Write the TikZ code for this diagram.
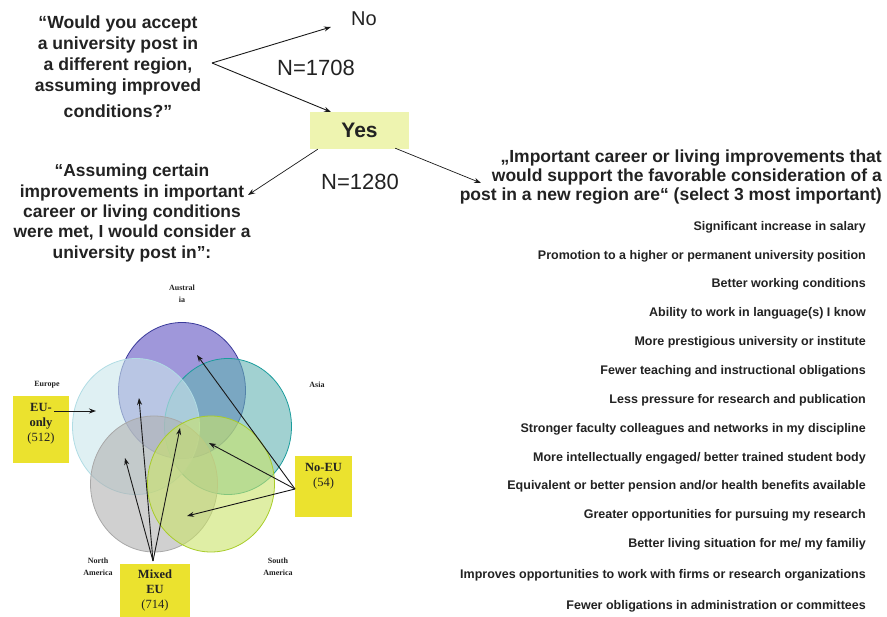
\documentclass[tikz,border=0pt]{standalone}
\usepackage{fontspec}
\setmainfont{Liberation Sans}
\newfontfamily\vennfont{Liberation Serif}
\usetikzlibrary{shapes.geometric,arrows.meta}

\definecolor{ink}{HTML}{222222}
\definecolor{stickyyellow}{RGB}{235,226,46}
\definecolor{yesfill}{RGB}{238,244,176}
\definecolor{ausfill}{HTML}{5F52C1}
\definecolor{ausline}{HTML}{3A3A9A}
\definecolor{asiafill}{HTML}{62B2B2}
\definecolor{asialine}{HTML}{1A9C9C}
\definecolor{eufill}{HTML}{CAE6EB}
\definecolor{euline}{HTML}{B0DCE4}
\definecolor{nafill}{HTML}{B1B1B1}
\definecolor{naline}{HTML}{A8A8A8}
\definecolor{safill}{HTML}{CAE369}
\definecolor{saline}{HTML}{A8CC28}

\begin{document}
\begin{tikzpicture}[x=1pt,y=-1pt,>={Stealth[length=7pt,width=5pt]},text=ink]
    \tikzstyle{question}=[align=center,font=\bfseries\fontsize{17.6}{21}\selectfont]
    \tikzstyle{count}=[font=\fontsize{22}{26}\selectfont]
    \tikzstyle{item}=[anchor=east,inner sep=0pt,font=\bfseries\fontsize{12.5}{15}\selectfont]
    \tikzstyle{region}=[ellipse,minimum width=127pt,minimum height=136pt,inner sep=0pt,fill opacity=0.6,line width=0.8pt]
    \tikzstyle{region label}=[align=center,font=\vennfont\bfseries\fontsize{8}{12}\selectfont]
    \tikzstyle{sticky}=[fill=stickyyellow,inner sep=0pt]
    \tikzstyle{sticky text}=[align=center,font=\vennfont\fontsize{12.5}{15}\selectfont]
    \tikzstyle{pointer}=[->,draw=black!90,line width=0.9pt]

    \useasboundingbox (0,0) rectangle (887,617);

    % first question and answers
    \node[question] (Q1) at (118,66.5) {“Would you accept\\a university post in\\a different region,\\assuming improved\\[5pt]conditions?”};
    \coordinate (fork) at (212,63);
    \node[count,font=\fontsize{20}{24}\selectfont] (No) at (364,19) {No};
    \node[count] (N1) at (316,68) {N=1708};
    \node[fill=yesfill,minimum width=99pt,minimum height=37pt,inner sep=0pt,font=\bfseries\fontsize{21}{25}\selectfont] (Yes) at (359.5,130.5) {Yes};
    \node[count] (N2) at (360,182) {N=1280};
    \coordinate (no-tip) at (331,27);
    \coordinate (yes-tip) at (331,112);
    \draw[pointer] (fork) -- (no-tip);
    \draw[pointer] (fork) -- (yes-tip);

    % the two follow-up questions
    \node[question,font=\bfseries\fontsize{17.4}{20.3}\selectfont] (Q2) at (132,213) {“Assuming certain\\improvements in important\\career or living conditions\\were met, I would consider a\\university post in”:};
    \node[anchor=east,align=right,inner sep=0pt,font=\bfseries\fontsize{17.5}{19}\selectfont] (Q3) at (882,177) {„Important career or living improvements that\\would support the favorable consideration of a\\post in a new region are“ (select 3 most important)};
    \coordinate (left-tip) at (248,195);
    \coordinate (right-tip) at (481,183);
    \draw[pointer,line width=0.7pt] (Yes.south west) ++(8,0) -- (left-tip);
    \draw[pointer,line width=0.7pt] (Yes.south east) ++(-14,-1) -- (right-tip);

    % list of improvements
    \foreach \y/\txt in {227/{Significant increase in salary},
        256/{Promotion to a higher or permanent university position},
        284/{Better working conditions},
        313/{Ability to work in language(s) I know},
        342/{More prestigious university or institute},
        371/{Fewer teaching and instructional obligations},
        400/{Less pressure for research and publication},
        429/{Stronger faculty colleagues and networks in my discipline},
        458/{More intellectually engaged/ better trained student body},
        486/{Equivalent or better pension and/or health benefits available},
        515/{Greater opportunities for pursuing my research},
        544/{Better living situation for me/ my familiy},
        575/{Improves opportunities to work with firms or research organizations},
        606/{Fewer obligations in administration or committees}}
        \node[item] (item-\y) at (866,\y) {\txt};

    % Venn diagram of regions
    \node[region,fill=ausfill,draw=ausline] (Aus) at (182,390.5) {};
    \node[region,fill=asiafill,draw=asialine] (Asia) at (228,426.5) {};
    \node[region,fill=eufill,draw=euline] (Eur) at (136,426.5) {};
    \node[region,fill=nafill,draw=naline] (NAm) at (154,484) {};
    \node[region,fill=safill,draw=saline] (SAm) at (211,484) {};

    \node[region label] (Aus-label) at (182,294) {Austral\\ia};
    \node[region label] (Eur-label) at (47,385) {Europe};
    \node[region label] (Asia-label) at (317,385) {Asia};
    \node[region label] (NAm-label) at (98,567) {North\\America};
    \node[region label] (SAm-label) at (278,567) {South\\America};

    % answer groups
    \node[sticky,minimum width=56pt,minimum height=67pt] (EUonly) at (41,429.5) {};
    \node[sticky text] (EUonly-text) at (41,424) {\textbf{EU-}\\\textbf{only}\\(512)};
    \node[sticky,minimum width=57pt,minimum height=61pt] (NoEU) at (323.5,486.5) {};
    \node[sticky text] (NoEU-text) at (323.5,476.5) {\textbf{No-EU}\\(54)};
    \node[sticky,minimum width=70pt,minimum height=53pt] (Mixed) at (155,590.5) {};
    \node[sticky text] (Mixed-text) at (155,590.5) {\textbf{Mixed}\\\textbf{EU}\\(714)};

    \coordinate (eu-tail) at (54,411);
    \coordinate (eu-tip) at (96,411);
    \draw[pointer] (eu-tail) -- (eu-tip);

    \coordinate (noeu-tail) at (295,489);
    \coordinate (noeu-aus) at (197,355);
    \coordinate (noeu-mid) at (209,443);
    \coordinate (noeu-low) at (187,516);
    \foreach \t in {noeu-aus,noeu-mid,noeu-low}
        \draw[pointer] (noeu-tail) -- (\t);

    \coordinate (mixed-tail) at (153,561);
    \coordinate (mixed-eu) at (139,398);
    \coordinate (mixed-na) at (125,458);
    \coordinate (mixed-mid) at (180,428);
    \foreach \t in {mixed-eu,mixed-na,mixed-mid}
        \draw[pointer] (mixed-tail) -- (\t);
\end{tikzpicture}
\end{document}
